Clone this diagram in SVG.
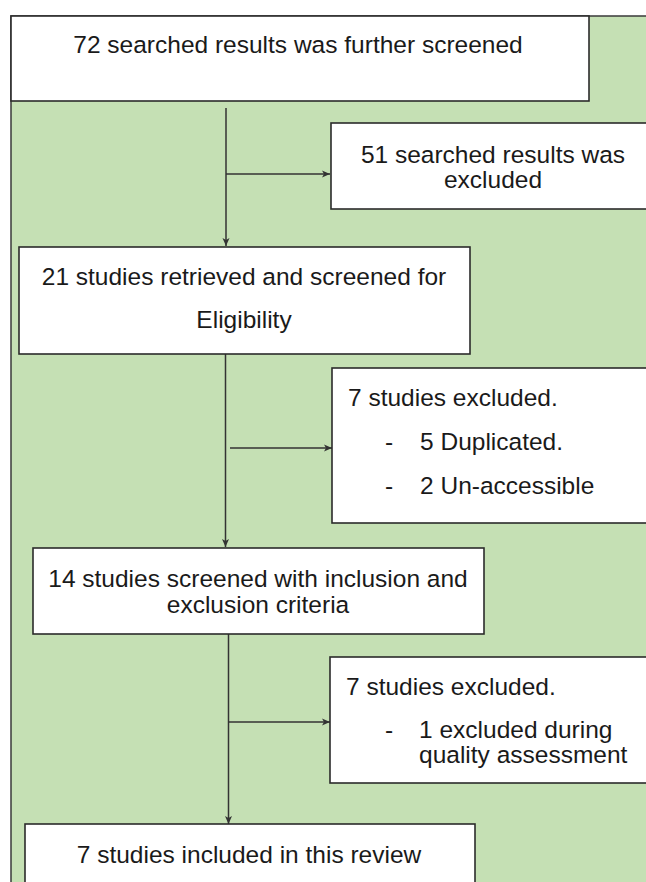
<svg xmlns="http://www.w3.org/2000/svg" width="646" height="882" viewBox="0 0 646 882">
  <style>
    .box { fill: #ffffff; stroke: #2b2b2b; stroke-width: 1.6; }
    .t { font-family: "Liberation Sans", Arial, sans-serif; font-size: 24.5px; fill: #1a1a1a; }
    .c { text-anchor: middle; }
    .conn { stroke: #333333; stroke-width: 1.5; fill: none; }
  </style>
  <defs>
    <marker id="arrow" markerUnits="userSpaceOnUse" markerWidth="10" markerHeight="8" refX="8" refY="4" orient="auto">
      <path d="M0,0.5 L8,4 L0,7.5 L2,4 Z" fill="#333333"/>
    </marker>
  </defs>
  <rect x="0" y="0" width="646" height="882" fill="#ffffff"/>
  <rect id="background" x="11" y="16" width="700" height="900" fill="#C5E0B4" stroke="#3a3a3a" stroke-width="1.5"/>

  <g id="connectors">
    <line class="conn" x1="226" y1="108" x2="226" y2="246" marker-end="url(#arrow)"/>
    <line class="conn" x1="226" y1="174" x2="330" y2="174" marker-end="url(#arrow)"/>
    <line class="conn" x1="225.5" y1="354" x2="225.5" y2="547" marker-end="url(#arrow)"/>
    <line class="conn" x1="230" y1="448" x2="332" y2="448" marker-end="url(#arrow)"/>
    <line class="conn" x1="228.5" y1="634" x2="228.5" y2="824" marker-end="url(#arrow)"/>
    <line class="conn" x1="228.5" y1="722" x2="330" y2="722" marker-end="url(#arrow)"/>
  </g>

  <g id="node-searched">
    <rect class="box" x="11" y="16" width="578" height="85"/>
    <text class="t c" x="298" y="53">72 searched results was further screened</text>
  </g>

  <g id="node-excluded-51">
    <rect class="box" x="331" y="123" width="340" height="86"/>
    <text class="t c" x="493" y="163">51 searched results was</text>
    <text class="t c" x="493" y="188">excluded</text>
  </g>

  <g id="node-retrieved">
    <rect class="box" x="19" y="247" width="451" height="107"/>
    <text class="t c" x="244" y="285">21 studies retrieved and screened for</text>
    <text class="t c" x="244" y="328">Eligibility</text>
  </g>

  <g id="node-excluded-7a">
    <rect class="box" x="332" y="368" width="340" height="155"/>
    <text class="t" x="348" y="406">7 studies excluded.</text>
    <text class="t" x="385" y="450">-</text>
    <text class="t" x="420" y="450">5 Duplicated.</text>
    <text class="t" x="385" y="494">-</text>
    <text class="t" x="420" y="494">2 Un-accessible</text>
  </g>

  <g id="node-screened">
    <rect class="box" x="33" y="548" width="451" height="86"/>
    <text class="t c" x="258" y="587">14 studies screened with inclusion and</text>
    <text class="t c" x="258" y="613">exclusion criteria</text>
  </g>

  <g id="node-excluded-7b">
    <rect class="box" x="330" y="657" width="340" height="126"/>
    <text class="t" x="346" y="695">7 studies excluded.</text>
    <text class="t" x="385" y="738">-</text>
    <text class="t" x="419" y="738">1 excluded during</text>
    <text class="t" x="419" y="763">quality assessment</text>
  </g>

  <g id="node-included">
    <rect class="box" x="25" y="824" width="450" height="80"/>
    <text class="t c" x="249" y="863">7 studies included in this review</text>
  </g>
</svg>
